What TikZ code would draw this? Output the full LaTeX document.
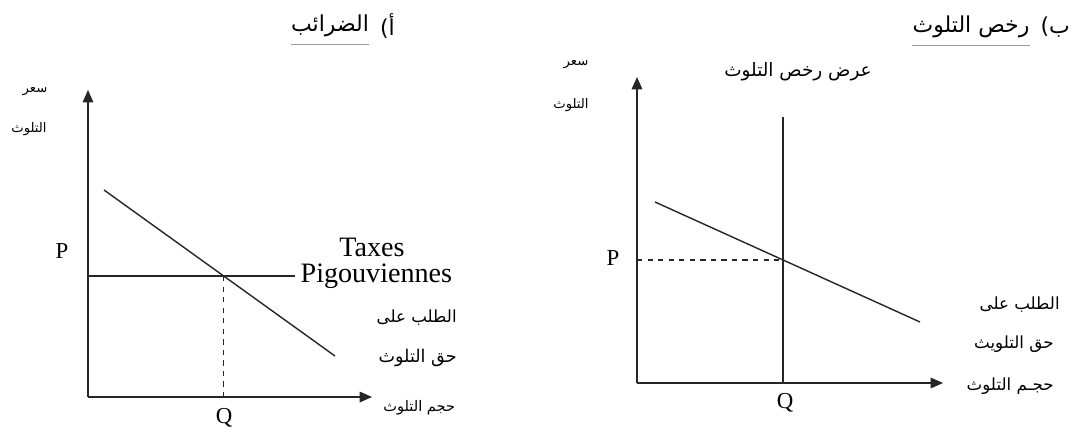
\documentclass[tikz,border=0pt]{standalone}
\usepackage{fontspec}
\setmainfont{Liberation Serif}
\newfontfamily\arabicfont[Script=Arabic]{DejaVu Sans}
\TeXXeTstate=1
\usetikzlibrary{arrows.meta}
\newcommand{\artext}[1]{{\arabicfont\beginR #1\endR}}

\begin{document}
\begin{tikzpicture}[
    x=0.02cm, y=-0.02cm,
    axis/.style={line width=0.8pt, black!85, -{Triangle[length=7pt,width=6pt]}},
    curve/.style={line width=0.8pt, black!85},
    guide/.style={line width=0.7pt, black!85, dashed},
    lbl/.style={font=\fontsize{13}{15}\selectfont, inner sep=0pt},
    biglbl/.style={font=\fontsize{16}{18}\selectfont, inner sep=0pt},
    arlbl/.style={font=\fontsize{9.5}{11}\selectfont, inner sep=0pt},
    ylbl/.style={font=\fontsize{7.5}{9}\selectfont, inner sep=0pt},
    title/.style={font=\fontsize{12.5}{14}\selectfont, inner sep=0pt},
    uline/.style={line width=0.7pt, black!40}
]
\useasboundingbox (0,0) rectangle (1077,435);

% Left panel: taxes
\coordinate (o1) at (88,397);
\coordinate (y1) at (88,90);
\coordinate (x1) at (372,397);
\coordinate (t1) at (88,276);
\coordinate (t2) at (295,276);
\coordinate (d1) at (104,190);
\coordinate (d2) at (335,356);
\coordinate (e1) at (intersection of d1--d2 and t1--t2);
\coordinate (q1) at (e1 |- o1);

\draw[axis] (o1) -- (y1);
\draw[axis] (o1) -- (x1);
\draw[curve] (t1) -- (t2);
\draw[curve] (d1) -- (d2);
\draw[guide] (e1) -- (q1);

\node[lbl] (p1) at (62,251) {P};
\node[lbl] (qa) at (224,418) {Q};
\node[biglbl, anchor=west] (pg) at ([xshift=3]t2) {Pigouviennes};
\node[biglbl] (tx) at (372,247) {Taxes};
\node[arlbl, anchor=east] (dm1) at (457,318) {\artext{الطلب على}};
\node[arlbl, font=\fontsize{10}{12}\selectfont, anchor=east] (dm2) at (457,358) {\artext{حق التلوث}};
\node[arlbl, font=\fontsize{8.3}{10}\selectfont, anchor=west] (vol1) at (383,408) {\artext{حجم التلوث}};
\node[ylbl] (pr1) at (35,92) {\artext{سعر}};
\node[ylbl] (pr1b) at (29,129) {\artext{التلوث}};

\node[title] (ta) at (330,26) {\artext{الضرائب}};
\node[title, anchor=west] (tam) at ([xshift=6]ta.east) {\artext{أ)}};
\draw[uline] ([yshift=-4]ta.south west) -- ([yshift=-4]ta.south east);

% Right panel: pollution permits
\coordinate (o2) at (637,383);
\coordinate (y2) at (637,77);
\coordinate (x2) at (943,383);
\coordinate (s1) at (783,117);
\coordinate (s2) at (s1 |- o2);
\coordinate (d3) at (655,202);
\coordinate (d4) at (920,322);
\coordinate (e2) at (intersection of d3--d4 and s1--s2);
\coordinate (p2) at (e2 -| o2);

\draw[axis] (o2) -- (y2);
\draw[axis] (o2) -- (x2);
\draw[curve] (s1) -- (s2);
\draw[curve] (d3) -- (d4);
\draw[guide] (p2) -- (e2);

\node[lbl] (pb) at (613,258) {P};
\node[lbl] (qb) at (785,403) {Q};
\node[arlbl, font=\fontsize{10.5}{12}\selectfont] (sup) at (798,72) {\artext{عرض رخص التلوث}};
\node[arlbl, anchor=east] (dm3) at (1060,305) {\artext{الطلب على}};
\node[arlbl, anchor=east] (dm4) at (1054,344) {\artext{حق التلويث}};
\node[arlbl, anchor=east] (vol2) at (1054,386) {\artext{حجـم التلوث}};
\node[ylbl] (pr2) at (576,65) {\artext{سعر}};
\node[ylbl] (pr2b) at (571,105) {\artext{التلوث}};

\node[title] (tb) at (971,27) {\artext{رخص التلوث}};
\node[title, anchor=west] (tbm) at ([xshift=6]tb.east) {\artext{ب)}};
\draw[uline] ([yshift=-4]tb.south west) -- ([yshift=-4]tb.south east);

\end{tikzpicture}
\end{document}
